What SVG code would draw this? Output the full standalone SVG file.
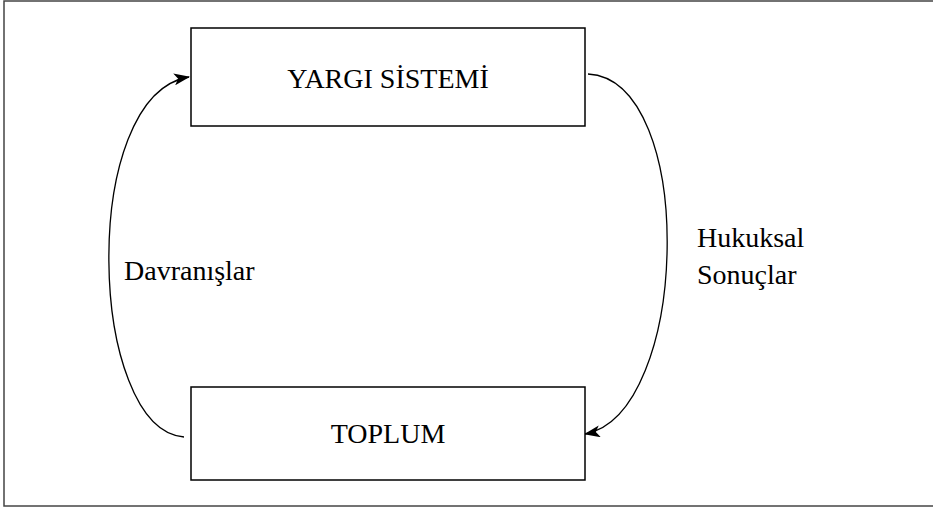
<svg xmlns="http://www.w3.org/2000/svg" width="933" height="509" viewBox="0 0 933 509">
  <style>
    .box { fill: #ffffff; stroke: #000000; stroke-width: 1.5; }
    .frame { fill: none; stroke: #444444; stroke-width: 1.5; }
    .label { font-family: "Liberation Serif", "Times New Roman", Times, "DejaVu Serif", serif; font-size: 28px; fill: #000000; }
    .link { fill: none; stroke: #000000; stroke-width: 1.3; }
  </style>
  <defs>
    <marker id="arrow" markerWidth="16" markerHeight="12" refX="15" refY="6" orient="auto" markerUnits="userSpaceOnUse">
      <path d="M0,0 L16,6 L0,12 L4,6 Z" fill="#000000"/>
    </marker>
  </defs>
  <rect width="933" height="509" fill="#ffffff"/>
  <rect class="frame" x="4" y="1" width="940" height="505"/>

  <g id="connectors">
    <path class="link" d="M184,437 C88,430 78,95 189,77" marker-end="url(#arrow)"/>
    <path class="link" d="M588,74 C698,80 690,415 585,434" marker-end="url(#arrow)"/>
  </g>

  <g id="yargi-sistemi">
    <rect class="box" x="191" y="28" width="394" height="98"/>
    <text class="label" x="388" y="88" text-anchor="middle">YARGI SİSTEMİ</text>
  </g>

  <g id="toplum">
    <rect class="box" x="191" y="387" width="394" height="93"/>
    <text class="label" x="388" y="443" text-anchor="middle">TOPLUM</text>
  </g>

  <g id="davranislar">
    <text class="label" x="124" y="280">Davranışlar</text>
  </g>

  <g id="hukuksal-sonuclar">
    <text class="label" x="697" y="247">Hukuksal</text>
    <text class="label" x="697" y="284">Sonuçlar</text>
  </g>
</svg>
